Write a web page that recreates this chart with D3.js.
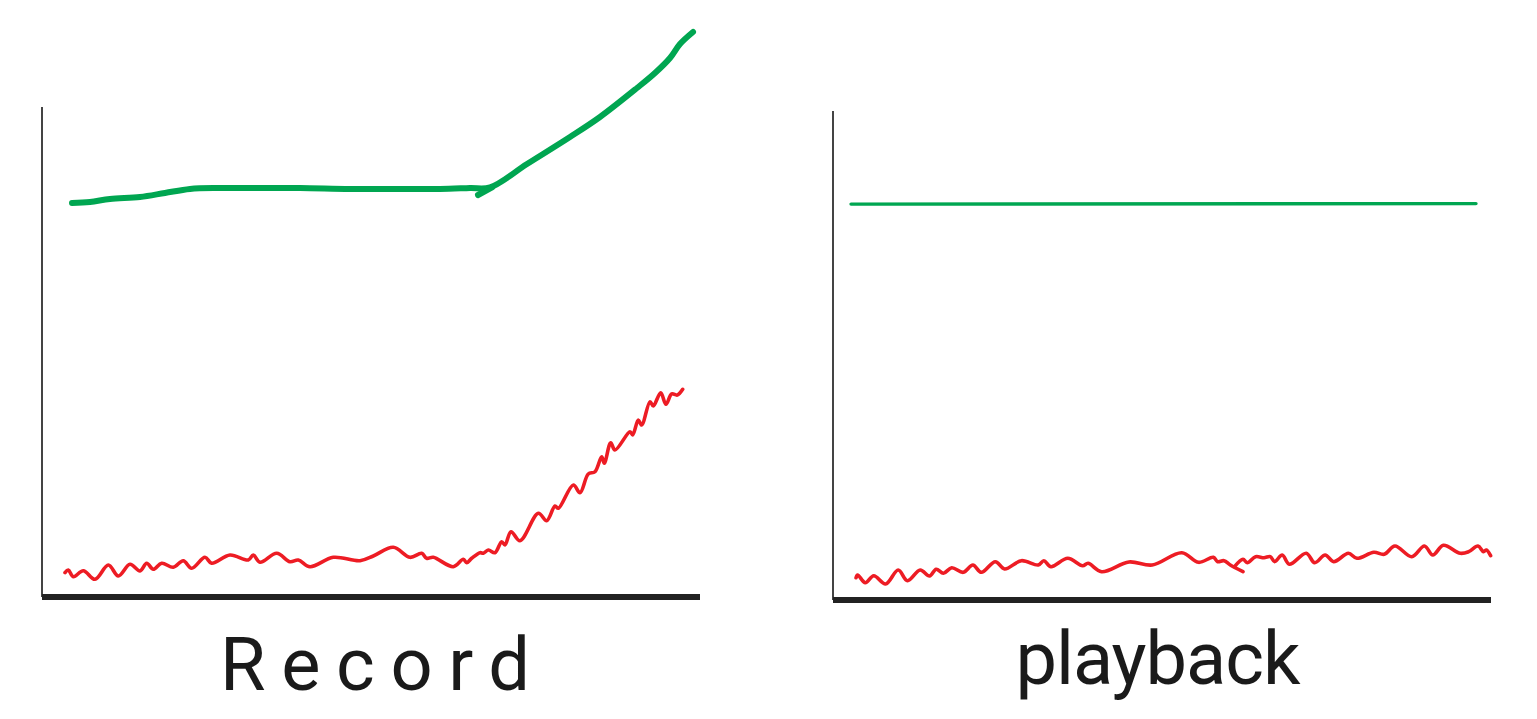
<!DOCTYPE html>
<html>
<head>
<meta charset="utf-8">
<script src="https://cdn.jsdelivr.net/npm/d3@7"></script>
<style>
  html, body { margin: 0; padding: 0; background: #ffffff; }
  svg { display: block; }
</style>
</head>
<body>
<svg id="chart" width="1537" height="719"></svg>
<script>
// ---- DATA (x: time 0-100, y: value 0-100) ----
const panelTitles = ["Record", "playback"];

const recordGreen = [
  [4.56,80.41],[7.29,80.61],[10.33,81.22],[14.89,81.63],[18.69,82.45],[22.49,83.27],
  [27.05,83.47],[33.13,83.47],[39.21,83.47],[46.81,83.27],[54.41,83.27],[60.49,83.27],
  [65.05,83.47],[68.09,83.6],[73.71,88.37],[80.24,93.88],[84.8,97.96],
  [90.43,103.88],[93.16,106.94],[95.44,110.0],[96.96,112.86],[98.94,115.31]
];
const recordGreenHook = [[68.4,83.6],[66.26,82.04]];

const recordRed = [
  [3.5,4.96],[4.0,5.5],[4.76,4.14],[6.28,5.37],[8.05,3.61],[10.08,6.53],[11.6,4.29],
  [13.37,6.67],[14.89,5.31],[15.91,6.88],[16.91,5.65],[18.19,6.88],[19.95,6.06],
  [21.47,7.41],[22.75,5.86],[24.77,8.1],[25.79,6.88],[28.57,8.57],[31.35,7.55],
  [32.11,8.57],[33.13,7.08],[35.67,8.92],[37.69,7.2],[38.95,7.55],[40.73,6.18],
  [44.27,8.1],[48.33,7.41],[50.35,8.37],[53.39,10.14],[55.93,8.1],[57.7,8.92],
  [58.46,7.9],[59.47,8.1],[62.5,6.18],[64.03,7.69],[64.54,7.0],[65.3,7.9],[66.57,9.04],
  [67.07,8.92],[67.83,9.59],[68.84,9.04],[69.86,11.29],[70.36,10.61],[71.28,13.33],
  [72.64,11.49],[75.43,17.08],[76.7,15.57],[77.96,18.57],[78.47,18.1],[80.75,22.86],
  [81.76,21.29],[83.02,25.1],[84.04,25.57],[85.06,28.63],[85.46,27.29],[86.43,31.49],
  [87.08,30.0],[89.36,33.73],[89.77,33.06],[90.62,36.12],[91.14,35.1],[92.4,39.86],
  [92.9,38.98],[94.03,41.69],[94.83,39.33],[95.7,41.43],[96.55,41.22],[97.37,42.39]
];

const playbackGreen = [[2.74,80.8],[97.72,80.9]];

const playbackRedA = [
  [3.5,4.55],[3.75,5.1],[4.91,3.53],[6.2,4.96],[7.99,3.27],[9.91,6.12],[11.32,3.94],
  [13.25,6.12],[14.67,4.9],[15.68,6.27],[16.78,5.45],[18.05,6.59],[19.79,5.65],
  [21.26,7.14],[22.55,5.65],[24.67,7.82],[26.08,6.33],[28.63,8.02],[31.2,7.14],
  [32.04,8.02],[33.13,6.8],[35.68,8.51],[37.93,7.0],[38.77,7.49],[40.82,5.78],
  [44.98,7.76],[48.51,7.14],[53.01,9.65],[55.56,7.69],[57.81,8.71],[58.45,7.82],
  [59.42,8.02],[60.38,7.14],[62.31,5.78]
];
const playbackRedB = [
  [61.02,6.8],[62.31,8.31],[62.95,7.61],[64.22,8.84],[65.5,8.63],[66.47,8.84],
  [67.11,7.82],[68.27,9.18],[69.36,7.29],[71.91,9.53],[73.21,7.61],[74.8,9.18],
  [76.09,7.82],[78.33,9.53],[79.62,8.51],[82.19,9.73],[83.78,9.33],[85.4,11.02],
  [87.96,8.84],[89.88,11.02],[91.16,9.18],[92.77,11.16],[95.33,9.53],[96.61,9.86],
  [98.02,11.02],[98.86,9.86],[99.3,10.2],[99.94,9.04]
];

// ---- STYLE ----
const GREEN = "#00a651";
const RED = "#ed1c24";

const svg = d3.select("#chart");

const panels = [
  { title: panelTitles[0], x0: 42, x1: 700, yBase: 597, yTop: 107, labelY: 690,
    series: [
      { data: recordGreen, color: GREEN, width: 6 },
      { data: recordGreenHook, color: GREEN, width: 6 },
      { data: recordRed, color: RED, width: 3.6 }
    ], labelLen: 310 },
  { title: panelTitles[1], x0: 833, x1: 1491, yBase: 600, yTop: 111, labelY: 684,
    series: [
      { data: playbackGreen, color: GREEN, width: 3.4 },
      { data: playbackRedA, color: RED, width: 3.6 },
      { data: playbackRedB, color: RED, width: 3.6 }
    ], labelLen: 285 }
];

panels.forEach(p => {
  const x = d3.scaleLinear().domain([0, 100]).range([p.x0, p.x1]);
  const y = d3.scaleLinear().domain([0, 100]).range([p.yBase, p.yBase - 490]);
  const g = svg.append("g");

  // y axis (thin)
  g.append("line")
    .attr("x1", x(0)).attr("x2", x(0))
    .attr("y1", p.yTop).attr("y2", p.yBase)
    .attr("stroke", "#444").attr("stroke-width", 2);

  const line = d3.line().x(d => x(d[0])).y(d => y(d[1])).curve(d3.curveCatmullRom.alpha(0.5));

  p.series.forEach(s => {
    g.append("path")
      .attr("d", line(s.data))
      .attr("fill", "none")
      .attr("stroke", s.color)
      .attr("stroke-width", s.width)
      .attr("stroke-linecap", "round")
      .attr("stroke-linejoin", "round");
  });

  // x axis (thick)
  g.append("line")
    .attr("x1", x(0)).attr("x2", x(100))
    .attr("y1", p.yBase).attr("y2", p.yBase)
    .attr("stroke", "#222").attr("stroke-width", 6);

  g.append("text")
    .attr("x", (p.x0 + p.x1) / 2 + (p.title === "Record" ? 4 : -4))
    .attr("y", p.labelY)
    .attr("text-anchor", "middle")
    .attr("font-family", "Roboto, 'Open Sans', 'DejaVu Sans', sans-serif")
    .attr("font-weight", 400)
    .attr("font-size", 74)
    .attr("fill", "#1a1a1a")
    .attr("textLength", p.labelLen)
    .attr("lengthAdjust", "spacing")
    .text(p.title);
});
</script>
</body>
</html>
